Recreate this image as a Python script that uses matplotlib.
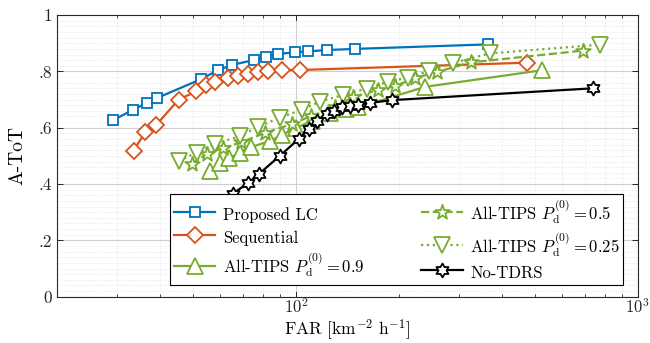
import numpy as np
import matplotlib
matplotlib.use("Agg")
import matplotlib.pyplot as plt
from matplotlib.path import Path
from matplotlib.ticker import FixedLocator, MultipleLocator, NullFormatter, LogLocator

plt.rcParams.update({"font.family": "serif", "font.serif": ["cmr10"],
                     "mathtext.fontset": "cm", "axes.unicode_minus": False,
                     "axes.formatter.use_mathtext": True})

# FAR [km^-2 h^-1] vs A-ToT
far_lc = [29.2, 33.3, 36.6, 39.3, 52.7, 59.3, 65.0, 75.2, 82.0, 88.6, 99.4, 108.5, 123.6, 149.2, 365.6]
tot_lc = [0.627, 0.663, 0.688, 0.706, 0.772, 0.805, 0.823, 0.840, 0.852, 0.862, 0.868, 0.871, 0.876, 0.880, 0.896]

far_seq = [33.5, 36.3, 38.9, 45.4, 51.1, 54.6, 57.8, 63.1, 67.5, 72.3, 77.3, 83.0, 91.1, 102.6, 475.0]
tot_seq = [0.519, 0.585, 0.608, 0.700, 0.729, 0.750, 0.762, 0.775, 0.785, 0.792, 0.798, 0.802, 0.805, 0.805, 0.831]

far_p90 = [55.9, 60.0, 63.8, 68.4, 73.7, 84.2, 90.8, 99.8, 111.2, 125.6, 140.4, 151.7, 238.5, 523.6]
tot_p90 = [0.446, 0.473, 0.491, 0.512, 0.531, 0.553, 0.574, 0.599, 0.624, 0.652, 0.668, 0.672, 0.745, 0.804]

far_p50 = [49.5, 54.8, 61.4, 69.3, 81.0, 97.2, 110.5, 129.9, 146.6, 173.6, 194.6, 222.8, 258.0, 325.0, 691.8]
tot_p50 = [0.471, 0.507, 0.528, 0.549, 0.581, 0.613, 0.641, 0.673, 0.709, 0.734, 0.748, 0.776, 0.798, 0.832, 0.874]

far_p25 = [45.4, 51.2, 57.8, 68.4, 77.3, 89.6, 104.0, 117.4, 137.1, 161.2, 185.7, 212.9, 244.8, 288.4, 369.6, 776.2]
tot_p25 = [0.482, 0.512, 0.542, 0.570, 0.602, 0.636, 0.663, 0.693, 0.716, 0.739, 0.763, 0.778, 0.801, 0.830, 0.864, 0.895]

far_nt = [59.0, 65.3, 72.2, 78.0, 89.9, 101.9, 109.0, 115.4, 123.1, 129.0, 136.2, 143.8, 151.7, 164.4, 190.8, 740.0]
tot_nt = [0.308, 0.366, 0.402, 0.436, 0.501, 0.560, 0.594, 0.624, 0.649, 0.661, 0.672, 0.677, 0.682, 0.688, 0.698, 0.740]

blue, orange, green = "#0072BD", "#D95319", "#77AC30"
pentagram = Path.unit_regular_star(5, 0.382)
hexagram = Path.unit_regular_star(6, 0.577)

fig, ax = plt.subplots(figsize=(6.5, 3.43), dpi=100)
fig.subplots_adjust(left=0.0877, right=0.981, top=0.956, bottom=0.135)

kw = dict(markerfacecolor="white", markeredgewidth=1.3, linewidth=1.6)
ax.plot(far_lc, tot_lc, "-", color=blue, marker="s", ms=7.5, label="Proposed LC", **kw)
ax.plot(far_seq, tot_seq, "-", color=orange, marker="D", ms=8, label="Sequential", **kw)
ax.plot(far_p90, tot_p90, "-", color=green, marker="^", ms=11, label=r"All-TIPS $P_{\mathrm{d}}^{(0)}=0.9$", **kw)
ax.plot(far_p50, tot_p50, "--", color=green, marker=pentagram, ms=11, label=r"All-TIPS $P_{\mathrm{d}}^{(0)}=0.5$", **kw)
ax.plot(far_p25, tot_p25, ":", color=green, marker="v", ms=11, label=r"All-TIPS $P_{\mathrm{d}}^{(0)}=0.25$", **kw)
ax.plot(far_nt, tot_nt, "-", color="black", marker=hexagram, ms=10, label="No-TDRS", **kw)

ax.set_xscale("log")
ax.set_xlim(20, 1000)
ax.set_ylim(0, 1)
ax.xaxis.set_major_locator(FixedLocator([100, 1000]))
ax.xaxis.set_minor_locator(LogLocator(base=10, subs=np.arange(2, 10)))
ax.xaxis.set_minor_formatter(NullFormatter())
ax.set_yticks([0, 0.2, 0.4, 0.6, 0.8, 1.0])
ax.set_yticklabels(["0", ".2", ".4", ".6", ".8", "1"])
ax.yaxis.set_minor_locator(MultipleLocator(0.02))

ax.grid(which="major", color="#cfcfcf", linewidth=0.8, linestyle="-")
ax.grid(which="minor", color="#e2e2e2", linewidth=0.6, linestyle=":")
ax.set_axisbelow(True)
ax.tick_params(which="both", direction="in", top=True, right=True, labelsize=12.5, colors="#262626")
ax.tick_params(which="major", length=4, width=0.7)
ax.tick_params(which="minor", length=2.5, width=0.6)
ax.tick_params(axis="y", which="minor", length=0)
ax.tick_params(axis="x", pad=0, labelsize=12)
for sp in ax.spines.values():
    sp.set_color("#262626"); sp.set_linewidth(0.8)

ax.set_xlabel(r"FAR [km$^{-2}$ h$^{-1}$]", fontsize=12.5, va="baseline")
ax.xaxis.set_label_coords(0.5, -0.135)
ax.set_ylabel("A-ToT", fontsize=14, va="center")
ax.yaxis.set_label_coords(-0.068, 0.5)

leg = ax.legend(ncols=2, loc="lower right", bbox_to_anchor=(0.9755, 0.0415), fontsize=12,
                frameon=True, fancybox=False, edgecolor="black", framealpha=1,
                handlelength=2.5, handleheight=1.35, numpoints=1, columnspacing=3.4,
                labelspacing=0.25, borderpad=0.2, handletextpad=0.45, borderaxespad=0)
leg.get_frame().set_linewidth(0.8)

plt.savefig("out.png", dpi=100)
